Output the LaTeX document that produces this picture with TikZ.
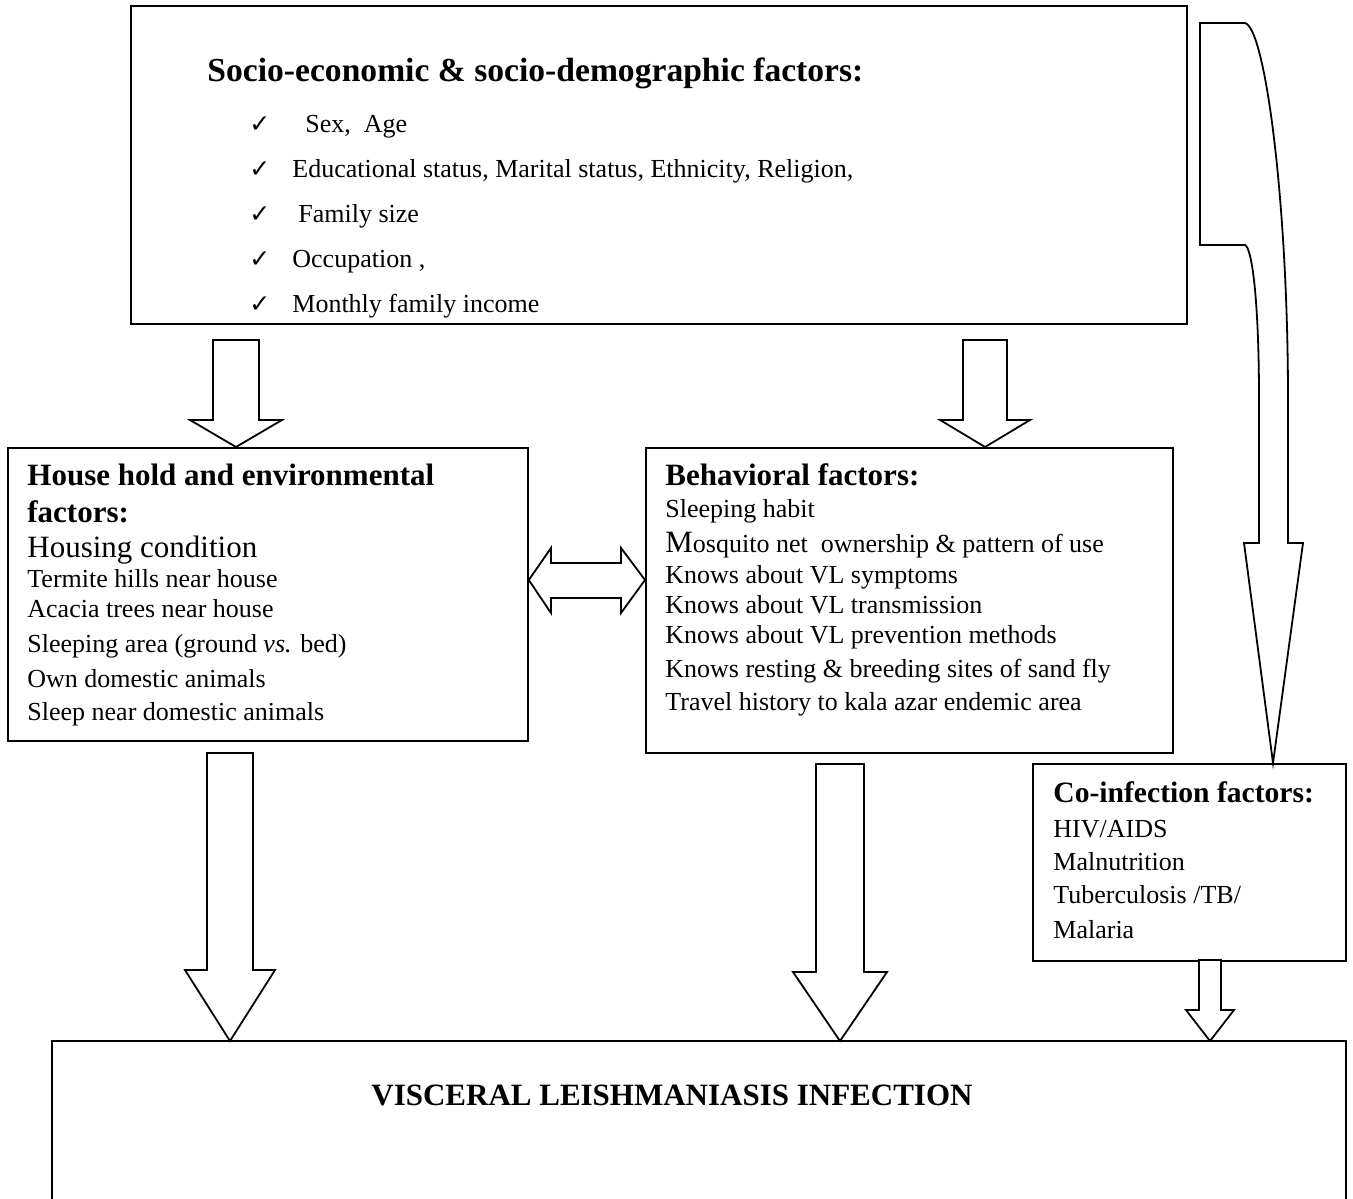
\documentclass[tikz,border=0pt]{standalone}
\usepackage{fontspec}
\setmainfont{Liberation Serif}
\newfontfamily\symfont{DejaVu Sans}
\newcommand\bodyf{\fontsize{13}{15}\selectfont}
\newcommand\bigf{\fontsize{15.5}{17}\selectfont}
\newcommand\ttlf{\fontsize{15.5}{17}\selectfont\bfseries}
\newcommand\topttlf{\fontsize{16.8}{18}\selectfont\bfseries}
\newcommand\cottlf{\fontsize{14.8}{17}\selectfont\bfseries}
\newcommand\ckmark{{\symfont\fontsize{12.5}{14}\selectfont ✓}}
\newcommand\dnarrow[6]{% xc, ytop, ybase, ytip, shafthalf, headhalf
  \draw[blk] (#1-#5,#2) -- (#1+#5,#2) -- (#1+#5,#3) -- (#1+#6,#3) -- (#1,#4) -- (#1-#6,#3) -- (#1-#5,#3) -- cycle;}
\begin{document}
\begin{tikzpicture}[x=0.5pt,y=-0.5pt,
  box/.style={draw, line width=0.9pt, anchor=north west, inner sep=0pt},
  blk/.style={draw, line width=0.9pt, line join=miter, fill=white},
  txt/.style={anchor=base west, inner sep=0pt, font=\bodyf},
  ttl/.style={anchor=base west, inner sep=0pt, font=\ttlf},
  ck/.style={anchor=base west, inner sep=0pt}]
\useasboundingbox (0,0) rectangle (1353,1198);

% boxes
\node[box, minimum width=528pt, minimum height=159pt] (top) at (130,5) {};
\node[box, minimum width=260pt, minimum height=146.5pt] (house) at (7,447) {};
\node[box, minimum width=263.5pt, minimum height=152.5pt] (behav) at (645,447) {};
\node[box, minimum width=156.5pt, minimum height=98.5pt] (coinf) at (1032,763) {};
\node[anchor=north west, inner sep=0pt, minimum width=646.5pt, minimum height=78.5pt] (vl) at (52,1041) {};
\draw[line width=0.9pt] (vl.south west) -- (vl.north west) -- (vl.north east) -- (vl.south east);

% top box text
\node[anchor=base west, inner sep=0pt, font=\topttlf] (t0) at (207,82) {Socio-economic \& socio-demographic factors:};
\node[ck] (c1) at (249,133) {\ckmark};
\node[txt] (t1) at (305,133) {Sex,\ \ Age};
\node[ck] (c2) at (249,178) {\ckmark};
\node[txt] (t2) at (292,178) {Educational status, Marital status, Ethnicity, Religion,};
\node[ck] (c3) at (249,222) {\ckmark};
\node[txt] (t3) at (298,222) {Family size};
\node[ck] (c4) at (249,267) {\ckmark};
\node[txt] (t4) at (292,267) {Occupation ,};
\node[ck] (c5) at (249,312) {\ckmark};
\node[txt] (t5) at (292,312) {Monthly family income};

% household box text
\node[ttl] (h0) at (27,485) {House hold and environmental};
\node[ttl] (h1) at (27,522) {factors:};
\node[txt, font=\bigf] (h2) at (27,557) {Housing condition};
\node[txt] (h3) at (27,587) {Termite hills near house};
\node[txt] (h4) at (27,617) {Acacia trees near house};
\node[txt] (h5) at (27,652) {Sleeping area (ground \textit{vs.} bed)};
\node[txt] (h6) at (27,687) {Own domestic animals};
\node[txt] (h7) at (27,720) {Sleep near domestic animals};

% behavioral box text
\node[ttl] (b0) at (665,485) {Behavioral factors:};
\node[txt] (b1) at (665,517) {Sleeping habit};
\node[txt] (b2) at (665,552) {{\bigf M}osquito net\ \ ownership \& pattern of use};
\node[txt] (b3) at (665,583) {Knows about VL symptoms};
\node[txt] (b4) at (665,613) {Knows about VL transmission};
\node[txt] (b5) at (665,643) {Knows about VL prevention methods};
\node[txt] (b6) at (665,677) {Knows resting \& breeding sites of sand fly};
\node[txt] (b7) at (665,710) {Travel history to kala azar endemic area};

% co-infection box text
\node[anchor=base west, inner sep=0pt, font=\cottlf] (k0) at (1053,802) {Co-infection factors:};
\node[txt] (k1) at (1053,837) {HIV/AIDS};
\node[txt] (k2) at (1053,870) {Malnutrition};
\node[txt] (k3) at (1053,903) {Tuberculosis /TB/};
\node[txt] (k4) at (1053,938) {Malaria};

% VL title
\node[anchor=base east, inner sep=0pt, font=\ttlf] (v0) at (973,1105) {VISCERAL LEISHMANIASIS INFECTION};

% block arrows
\dnarrow{236}{340}{420}{447}{23}{46}
\dnarrow{985}{340}{420}{447}{22}{45}
\dnarrow{230}{753}{970}{1041}{23}{45}
\dnarrow{840}{764}{972}{1041}{24}{47}
\dnarrow{1210}{960}{1010}{1041}{11}{24}

% double arrow between house and behav
\draw[blk] (house.east |- 0,580) -- (551,548) -- (551,563) -- (621,563) -- (621,548) -- (behav.west |- 0,580) -- (621,613) -- (621,598) -- (551,598) -- (551,613) -- cycle;

% curved arrow from top box to co-infection
\draw[blk] (1200,23) -- (1245,23) .. controls (1265,28) and (1288,200) .. (1288,400)
  -- (1288,543) -- (1303,543) -- (coinf.north -| 1273,0) -- (1244,543) -- (1259,543)
  -- (1259,400) .. controls (1259,300) and (1252,248) .. (1245,245) -- (1200,245) -- cycle;
\end{tikzpicture}
\end{document}
